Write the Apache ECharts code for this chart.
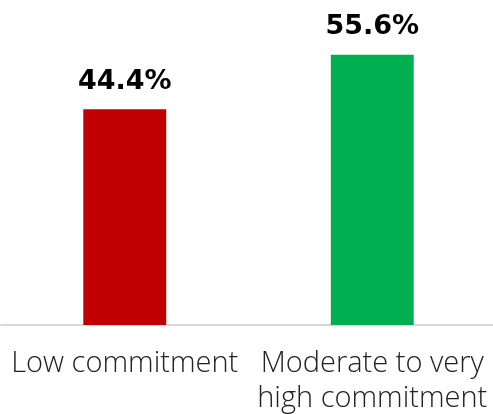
<!DOCTYPE html>
<html>
<head>
<meta charset="utf-8">
<script src="https://cdn.jsdelivr.net/npm/echarts@6/dist/echarts.min.js"></script>
<style>html,body{margin:0;padding:0;background:#fff;}#c{width:493px;height:414px;}</style>
</head>
<body>
<div id="c"></div>
<script>
var categories = ['Low commitment', 'Moderate to very\nhigh commitment'];
var values = [44.4, 55.6];
var barColors = ['#C00000', '#00B050'];

var chart = echarts.init(document.getElementById('c'), null, {renderer: 'canvas'});
chart.setOption({
  animation: false,
  grid: {left: 1, right: -3, top: 33.4, bottom: 89, containLabel: false, outerBoundsMode: 'none'},
  xAxis: {
    type: 'category',
    data: categories,
    axisLine: {show: true, lineStyle: {color: '#D9D9D9', width: 2}},
    axisTick: {show: false},
    axisLabel: {
      interval: 0,
      margin: 21,
      color: '#222222',
      fontFamily: 'Open Sans',
      fontWeight: 300,
      fontSize: 29,
      lineHeight: 35
    }
  },
  yAxis: {
    type: 'value',
    min: 0, max: 60,
    show: false,
    splitLine: {show: false}
  },
  series: [{
    type: 'bar',
    barWidth: '33.5%',
    data: values.map(function (v, i) { return {value: v, itemStyle: {color: barColors[i]}}; }),
    label: {
      show: true,
      position: 'top',
      distance: 14,
      formatter: function (p) { return p.value.toFixed(1) + '%'; },
      color: '#000',
      fontFamily: 'DejaVu Sans',
      fontWeight: 'bold',
      fontSize: 27
    }
  }]
});
</script>
</body>
</html>
